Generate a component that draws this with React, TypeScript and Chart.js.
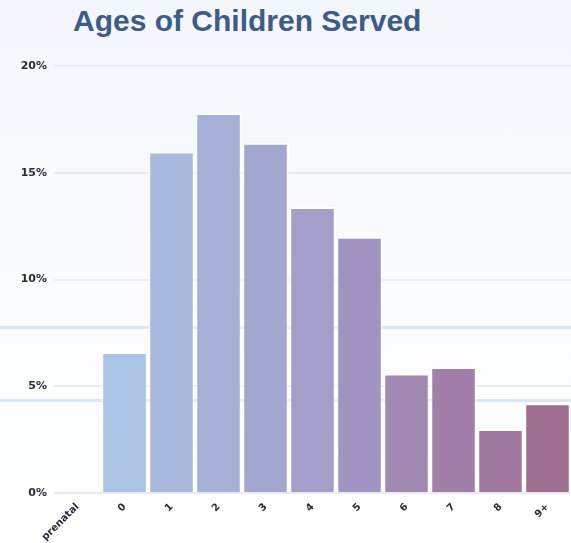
import React, { useEffect, useRef } from "react";
import { Chart, registerables } from "chart.js";

Chart.register(...registerables);

const categories = ["prenatal", "0", "1", "2", "3", "4", "5", "6", "7", "8", "9+"];
const shares = [0, 6.6, 16.0, 17.8, 16.4, 13.4, 12.0, 5.6, 5.9, 3.0, 4.2];
const barColors = [
  "#adc6e6", "#abc3e4", "#a8b9dd", "#a6b0d6", "#a3a6cf", "#a39fc8",
  "#a294c0", "#a289b2", "#a27fa8", "#a0779e", "#9e6f90",
];
const yTicks = [0, 5, 10, 15, 20];

export default function App() {
  const ref = useRef<HTMLCanvasElement | null>(null);
  useEffect(() => {
    document.body.style.margin = "0";
    if (!ref.current) return;
    const chart = new Chart(ref.current, {
      type: "bar",
      data: {
        labels: categories,
        datasets: [
          {
            data: shares,
            backgroundColor: barColors,
            borderColor: "rgba(255,255,255,0.5)",
            borderWidth: 2,
            categoryPercentage: 1,
            barPercentage: 0.99,
          },
        ],
      },
      options: {
        animation: false,
        responsive: false,
        maintainAspectRatio: false,
        layout: { padding: { top: 66, left: 0, right: 0, bottom: 0 } },
        plugins: { legend: { display: false }, title: { display: false }, tooltip: { enabled: false } },
        scales: {
          x: {
            grid: { display: false },
            border: { display: false },
            ticks: {
              minRotation: 45,
              maxRotation: 45,
              autoSkip: false,
              color: "#2a2a3a",
              font: { family: "DejaVu Sans", size: 10, weight: "bold" },
              padding: 0,
            },
            afterFit: (s: any) => {
              s.height = 50;
            },
          },
          y: {
            min: 0,
            max: 20,
            afterBuildTicks: (s: any) => {
              s.ticks = yTicks.map((v) => ({ value: v }));
            },
            grid: { color: "#e9ecef", lineWidth: 2, drawTicks: false },
            border: { display: false },
            ticks: {
              color: "#2a2a3a",
              padding: 7,
              font: { family: "DejaVu Sans", size: 11, weight: "bold" },
              callback: (v: any) => v + "%",
            },
            afterFit: (s: any) => {
              s.width = 54;
            },
          },
        },
      },
    });
    return () => chart.destroy();
  }, []);
  return (
    <div
      style={{
        position: "relative",
        width: 571,
        height: 543,
        background:
          "linear-gradient(to bottom, transparent 326px, #dce6f2 326px, #dce6f2 329px, transparent 329px, transparent 399px, #dce6f2 399px, #dce6f2 402px, transparent 402px), linear-gradient(to bottom, #f3f7fb 0%, #fbfcfe 60%, #ffffff 100%)",
      }}
    >
      <div
        style={{
          position: "absolute",
          left: 73,
          top: 4,
          fontFamily: "Liberation Sans, Arial, sans-serif",
          fontWeight: "bold",
          fontSize: 30,
          color: "#3e5c87",
          whiteSpace: "nowrap",
        }}
      >
        Ages of Children Served
      </div>
      <canvas ref={ref} width={571} height={543} style={{ position: "absolute", left: 0, top: 0 }} />
    </div>
  );
}
